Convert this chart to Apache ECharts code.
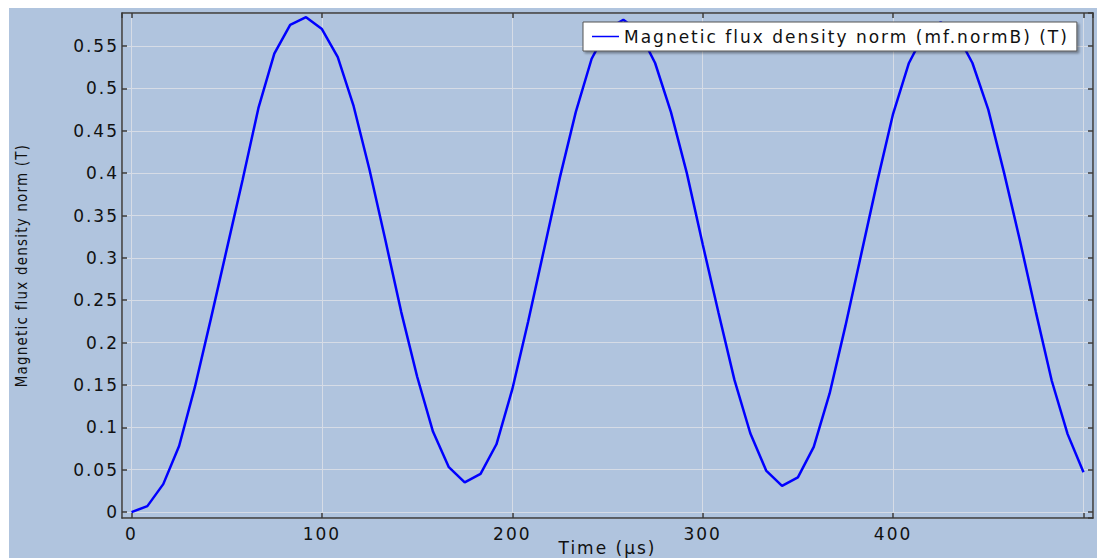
<!DOCTYPE html>
<html>
<head>
<meta charset="utf-8">
<script src="https://cdn.jsdelivr.net/npm/echarts@6/dist/echarts.min.js"></script>
<style>
  html, body { margin: 0; padding: 0; background: #ffffff; }
  #chart { position: absolute; left: 9px; top: 8px; width: 1088px; height: 550px; background: #b0c4de; }
  /* the original plot uses wide letter spacing */
  #chart svg text { letter-spacing: 2px; }
  #chart svg text[style*="Condensed"] { letter-spacing: 1.2px; }
</style>
</head>
<body>
<div id="chart"></div>
<script>
// time samples (µs)
var times = [0, 8.33, 16.67, 25, 33.33, 41.67, 50, 58.33, 66.67, 75,
  83.33, 91.67, 100, 108.33, 116.67, 125, 133.33, 141.67, 150, 158.33,
  166.67, 175, 183.33, 191.67, 200, 208.33, 216.67, 225, 233.33, 241.67,
  250, 258.33, 266.67, 275, 283.33, 291.67, 300, 308.33, 316.67, 325,
  333.33, 341.67, 350, 358.33, 366.67, 375, 383.33, 391.67, 400, 408.33,
  416.67, 425, 433.33, 441.67, 450, 458.33, 466.67, 475, 483.33, 491.67, 500];

// magnetic flux density norm (T)
var normB = [0, 0.007, 0.033, 0.078, 0.148, 0.228, 0.31, 0.392, 0.477, 0.541,
  0.575, 0.584, 0.570, 0.537, 0.479, 0.404, 0.321, 0.236, 0.160, 0.095,
  0.053, 0.035, 0.045, 0.080, 0.145, 0.225, 0.31, 0.395, 0.472, 0.535,
  0.570, 0.581, 0.567, 0.530, 0.472, 0.400, 0.316, 0.235, 0.156, 0.093,
  0.049, 0.031, 0.041, 0.077, 0.140, 0.220, 0.305, 0.390, 0.470, 0.530,
  0.566, 0.578, 0.565, 0.530, 0.475, 0.400, 0.320, 0.236, 0.155, 0.092, 0.047];

// x tick labels shown (the 500 grid line has no label)
var xTickLabels = ['0', '100', '200', '300', '400'];

var seriesName = 'Magnetic flux density norm (mf.normB) (T)';
var xTitle = 'Time (µs)';
var yTitle = 'Magnetic flux density norm (T)';

var axisColor = '#3a3a3a';
var gridColor = '#d6dce6';
var font = 'DejaVu Sans';

var chart = echarts.init(document.getElementById('chart'), null, { renderer: 'svg' });

// plain frame axis: ticks pointing inwards, no labels
function frameAxis(pos, isX) {
  return {
    type: 'value',
    position: pos,
    min: isX ? -5 : -0.007,
    max: isX ? 505 : 0.589,
    minInterval: isX ? 100 : 0.05,
    maxInterval: isX ? 100 : 0.05,
    splitNumber: isX ? 5 : 12,
    axisLine: { show: true, onZero: false, lineStyle: { color: axisColor, width: 1.5 } },
    axisTick: { show: true, inside: true, length: 5, lineStyle: { color: axisColor, width: 1.5 } },
    axisLabel: { show: false },
    splitLine: { show: false }
  };
}

var xMain = frameAxis('bottom', true);
xMain.axisLabel = { show: true, showMinLabel: false, showMaxLabel: false, margin: 7,
  color: '#111', fontFamily: font, fontSize: 17,
  formatter: function (v) {
    var s = String(v);
    return xTickLabels.indexOf(s) >= 0 ? s : '';
  } };
xMain.splitLine = { show: true, lineStyle: { color: gridColor, width: 1 } };
xMain.name = xTitle;
xMain.nameLocation = 'middle';
xMain.nameGap = 21;
xMain.nameMoveOverlap = false;
xMain.nameTextStyle = { color: '#111', fontFamily: font, fontSize: 17 };

var yMain = frameAxis('left', false);
yMain.axisLabel = { show: true, showMinLabel: false, showMaxLabel: false, margin: 3,
  color: '#111', fontFamily: font, fontSize: 17 };
yMain.splitLine = { show: true, lineStyle: { color: gridColor, width: 1 } };
yMain.name = yTitle;
yMain.nameLocation = 'middle';
yMain.nameGap = 93;
yMain.nameMoveOverlap = false;
yMain.nameTextStyle = { color: '#111', fontFamily: 'DejaVu Sans Condensed', fontSize: 15 };

var option = {
  animation: false,
  grid: { left: 113, top: 5, right: 4, bottom: 40, containLabel: false, outerBoundsMode: 'none' },
  legend: {
    left: 574,
    top: 14,
    data: [seriesName],
    icon: 'rect',
    backgroundColor: '#ffffff',
    borderColor: '#555',
    borderWidth: 1,
    borderRadius: 0,
    padding: [6, 90, 6, 9],
    itemWidth: 27,
    itemHeight: 1.5,
    shadowColor: 'rgba(0,0,0,0.35)',
    shadowBlur: 2,
    shadowOffsetX: 2,
    shadowOffsetY: 2,
    textStyle: { color: '#111', fontFamily: font, fontSize: 17 }
  },
  xAxis: [xMain, frameAxis('top', true)],
  yAxis: [yMain, frameAxis('right', false)],
  series: [{
    name: seriesName,
    type: 'line',
    data: times.map(function (t, i) { return [t, normB[i]]; }),
    symbol: 'none',
    showSymbol: false,
    lineStyle: { color: '#0000ff', width: 2.5 },
    itemStyle: { color: '#0000ff' }
  }]
};

chart.setOption(option);
</script>
</body>
</html>
